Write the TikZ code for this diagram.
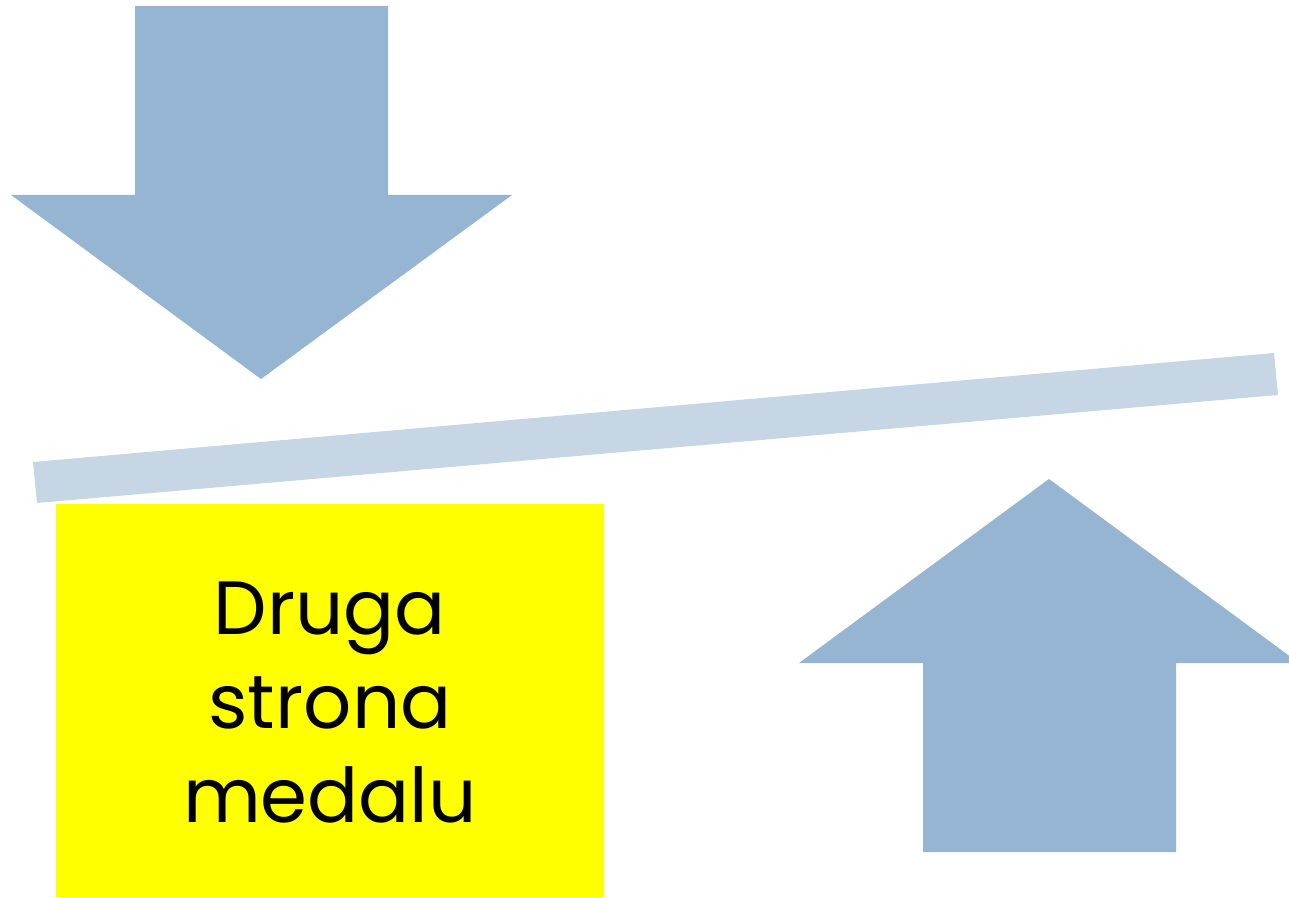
\documentclass[tikz,border=0pt]{standalone}
\usepackage{fontspec}
\setmainfont{Poppins}
\usepackage{tikz}
\usetikzlibrary{positioning}
\definecolor{arrowblue}{HTML}{95B5D3}
\definecolor{barblue}{HTML}{C6D6E5}
\definecolor{boxyellow}{HTML}{FFFF00}

\begin{document}
\begin{tikzpicture}[x=0.02cm,y=-0.02cm]
			\tikzstyle{every node}+=[inner sep=0pt]
			\useasboundingbox (0,0) rectangle (1289,898);
			\clip (0,0) rectangle (1289,898);
			% arrow pointing down
			\fill [arrowblue] (135,6) -- (388,6) -- (388,195) -- (512,195) -- (261,379) -- (11,195) -- (135,195) -- cycle;
			% tilted beam
			\fill [barblue] (33,462) -- (1274,353) -- (1278,395) -- (37,503) -- cycle;
			% arrow pointing up
			\fill [arrowblue] (923,852) -- (1176,852) -- (1176,663) -- (1299,663) -- (1049,479) -- (799,663) -- (923,663) -- cycle;
			% yellow box
			\fill [boxyellow] (56,504) rectangle (604,897);
			\node (caption) [align=center, font=\fontsize{43}{53.5}\selectfont] at (330,703) {Druga\\strona\\medalu};
\end{tikzpicture}
\end{document}
